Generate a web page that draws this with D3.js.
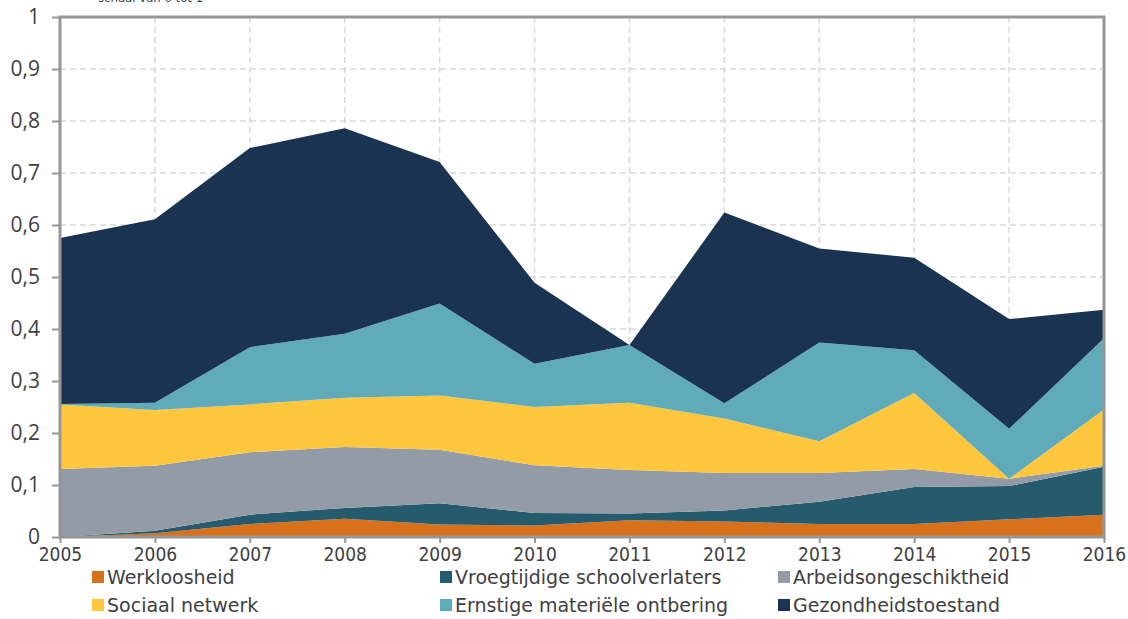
<!DOCTYPE html>
<html>
<head>
<meta charset="utf-8">
<script src="https://cdn.jsdelivr.net/npm/d3@7"></script>
<style>
  body { margin: 0; background: #fff; }
  svg { display: block; }
</style>
</head>
<body>
<div id="chart"></div>
<script>
// data (schaal van 0 tot 1)
var years = [2005, 2006, 2007, 2008, 2009, 2010, 2011, 2012, 2013, 2014, 2015, 2016];
var werkloosheid = [0, 0.007, 0.025, 0.035, 0.024, 0.022, 0.032, 0.030, 0.025, 0.025, 0.034, 0.043];
var schoolverlaters = [0, 0.005, 0.018, 0.021, 0.041, 0.024, 0.013, 0.021, 0.043, 0.071, 0.064, 0.092];
var arbeidsongeschikt = [0.131, 0.125, 0.120, 0.117, 0.103, 0.092, 0.084, 0.072, 0.055, 0.035, 0.014, 0.002];
var sociaalNetwerk = [0.124, 0.107, 0.092, 0.095, 0.104, 0.112, 0.129, 0.105, 0.061, 0.146, 0.000, 0.108];
var ontbering = [0.001, 0.014, 0.110, 0.123, 0.177, 0.083, 0.111, 0.029, 0.190, 0.082, 0.096, 0.137];
var gezondheid = [0.319, 0.353, 0.383, 0.395, 0.272, 0.156, 0.000, 0.367, 0.181, 0.178, 0.211, 0.055];
var yTicks = [0, 0.1, 0.2, 0.3, 0.4, 0.5, 0.6, 0.7, 0.8, 0.9, 1];

var series = [
  { key: 'Werkloosheid', values: werkloosheid, color: '#d8711c' },
  { key: 'Vroegtijdige schoolverlaters', values: schoolverlaters, color: '#265b6e' },
  { key: 'Arbeidsongeschiktheid', values: arbeidsongeschikt, color: '#929ba6' },
  { key: 'Sociaal netwerk', values: sociaalNetwerk, color: '#fec73e' },
  { key: 'Ernstige materiële ontbering', values: ontbering, color: '#60abb9' },
  { key: 'Gezondheidstoestand', values: gezondheid, color: '#1a3350' }
];

var width = 1128, height = 619;
var margin = { left: 60, right: 24, top: 17, bottom: 82 };

var table = years.map(function (y, i) {
  var row = { year: y };
  series.forEach(function (s) { row[s.key] = s.values[i]; });
  return row;
});

var stack = d3.stack().keys(series.map(function (s) { return s.key; }));
var layers = stack(table);

var x = d3.scaleLinear().domain([2005, 2016]).range([margin.left, width - margin.right]);
var y = d3.scaleLinear().domain([0, 1]).range([height - margin.bottom, margin.top]);

var svg = d3.select('#chart').append('svg')
  .attr('width', width).attr('height', height);

// caption, cut off at the top like the source
svg.append('text')
  .attr('x', 98).attr('y', 2)
  .attr('font-family', 'DejaVu Sans Condensed')
  .attr('font-size', 13)
  .attr('fill', '#404040')
  .text('schaal van 0 tot 1');

// grid
var grid = svg.append('g').attr('class', 'grid');
grid.selectAll('line.h').data(yTicks.slice(1, -1)).enter().append('line')
  .attr('x1', x(2005)).attr('x2', x(2016))
  .attr('y1', function (d) { return y(d); }).attr('y2', function (d) { return y(d); })
  .attr('stroke', '#d9d9d9').attr('stroke-width', 1.5).attr('stroke-dasharray', '6,4');
grid.selectAll('line.v').data(years.slice(1, -1)).enter().append('line')
  .attr('x1', function (d) { return x(d); }).attr('x2', function (d) { return x(d); })
  .attr('y1', y(1)).attr('y2', y(0))
  .attr('stroke', '#d9d9d9').attr('stroke-width', 1.5).attr('stroke-dasharray', '6,4');

// stacked areas
var area = d3.area()
  .x(function (d) { return x(d.data.year); })
  .y0(function (d) { return y(d[0]); })
  .y1(function (d) { return y(d[1]); });

svg.append('g').selectAll('path').data(layers).enter().append('path')
  .attr('d', area)
  .attr('fill', function (d, i) { return series[i].color; });

// frame
svg.append('rect')
  .attr('x', x(2005)).attr('y', y(1))
  .attr('width', x(2016) - x(2005)).attr('height', y(0) - y(1))
  .attr('fill', 'none').attr('stroke', '#969696').attr('stroke-width', 3);

// axes
var yAxis = d3.axisLeft(y).tickValues(yTicks).tickSize(8).tickPadding(12)
  .tickFormat(function (d) { return d3.format('.1~f')(d).replace('.', ','); });
var gy = svg.append('g').attr('transform', 'translate(' + x(2005) + ',0)').call(yAxis);
gy.select('.domain').remove();
gy.selectAll('line').attr('stroke', '#969696').attr('stroke-width', 2);
gy.selectAll('text')
  .attr('font-family', 'Open Sans').attr('font-size', 21).attr('fill', '#404040');

var xAxis = d3.axisBottom(x).tickValues(years).tickFormat(d3.format('d')).tickSize(6).tickPadding(5);
var gx = svg.append('g').attr('transform', 'translate(0,' + y(0) + ')').call(xAxis);
gx.select('.domain').remove();
gx.selectAll('line').attr('stroke', '#969696').attr('stroke-width', 2);
gx.selectAll('text')
  .attr('font-family', 'DejaVu Sans Condensed').attr('font-size', 19).attr('fill', '#404040');

// legend
var legendCols = [92, 440, 778];
var legendRows = [577, 605];
var legend = svg.append('g').selectAll('g').data(series).enter().append('g')
  .attr('transform', function (d, i) {
    return 'translate(' + legendCols[i % 3] + ',' + legendRows[Math.floor(i / 3)] + ')';
  });
legend.append('rect')
  .attr('x', 0).attr('y', -6).attr('width', 12).attr('height', 12)
  .attr('fill', function (d) { return d.color; });
legend.append('text')
  .attr('x', 15).attr('y', 0).attr('dy', '0.35em')
  .attr('font-family', 'DejaVu Sans').attr('font-size', 19).attr('fill', '#404040')
  .text(function (d) { return d.key; });
</script>
</body>
</html>
